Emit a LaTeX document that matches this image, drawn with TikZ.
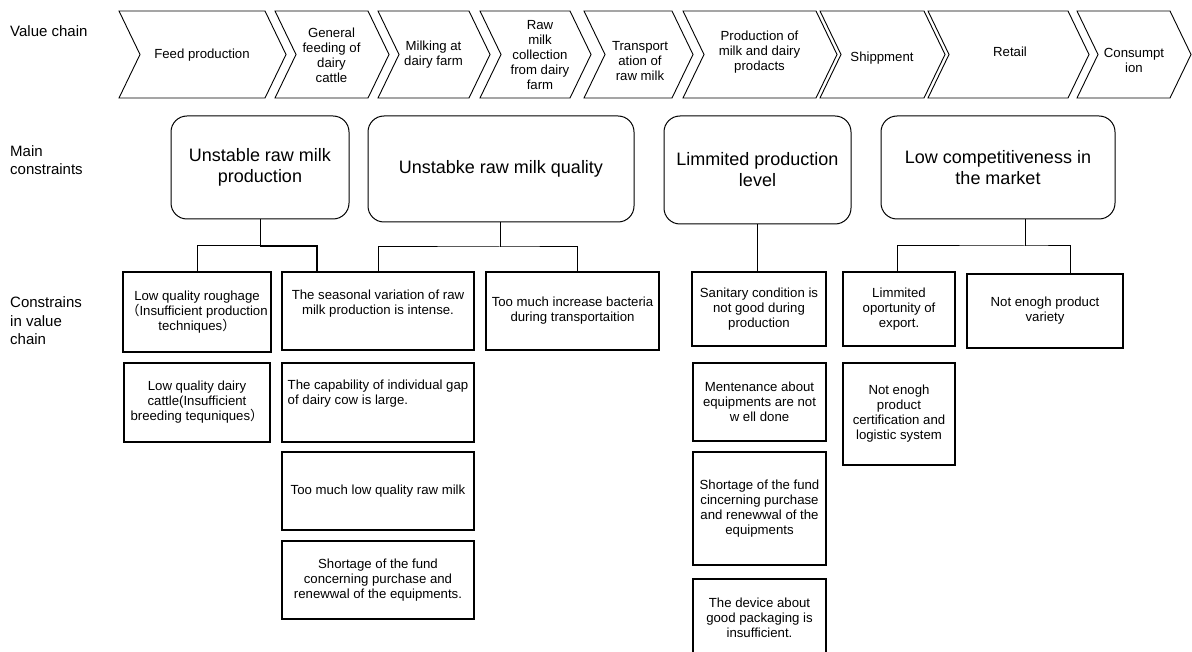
\documentclass[tikz,border=0pt]{standalone}
\usepackage{fontspec}
\setmainfont{Liberation Sans}
\newfontfamily\cjk{Noto Sans CJK SC}
\newcommand{\fwl}{{\cjk （}}
\newcommand{\fwr}{{\cjk ）}}
\begin{document}
\begin{tikzpicture}[x=1pt,y=-1pt,
  stage/.style={draw=black, line width=0.9pt, line join=miter},
  stagetext/.style={align=center, font=\fontsize{13.2}{15}\selectfont, inner sep=0pt},
  mainbox/.style={draw=black, line width=1pt, rounded corners=16pt, align=center,
    font=\fontsize{18}{21}\selectfont, inner sep=2pt},
  cbox/.style={draw=black, line width=1.1pt, align=center,
    font=\fontsize{13.2}{15}\selectfont, inner xsep=1pt, inner ysep=2pt},
  txt/.style={align=center, font=\fontsize{13.2}{15}\selectfont, inner sep=0pt},
  rowlabel/.style={anchor=west, align=left, font=\fontsize{15}{18.5}\selectfont, inner sep=0pt},
  link/.style={draw=black, line width=1pt},
  boldlink/.style={draw=black, line width=1.6pt},
]
\useasboundingbox (0,0) rectangle (1192,652);
\clip (0,0) rectangle (1192,652);

% row captions
\node[rowlabel] (lvc) at (10,31) {Value chain};
\node[rowlabel] (lmc) at (10,160) {Main\\constraints};
\node[rowlabel] (lcv) at (10,321) {Constrains\\in value\\chain};

% value chain stages (chevrons)
\foreach \l/\r in {119/265, 275/368, 378/469, 480/570, 584/672, 683/816, 820/924, 928/1068, 1077/1170}
  \draw[stage] (\l,11) -- (\r,11) -- (\r+21,54.5) -- (\r,98) -- (\l,98) -- (\l+21,54.5) -- cycle;

\node[stagetext] (vc1) at (202,55) {Feed production};
\node[stagetext] (vc2) at (331.5,55) {General\\feeding of\\dairy\\cattle};
\node[stagetext] (vc3) at (433.5,55) {Milking at\\dairy farm};
\node[stagetext] (vc4) at (540,55) {Raw\\milk\\collection\\from dairy\\farm};
\node[stagetext] (vc5) at (640,61) {Transport\\ation of\\raw milk};
\node[stagetext] (vc6) at (759.5,52) {Production of\\milk and dairy\\prodacts};
\node[stagetext] (vc7) at (882,58) {Shippment};
\node[stagetext] (vc8) at (1010,52) {Retail};
\node[stagetext] (vc9) at (1134,60) {Consumpt\\ion};

% main constraints
\node[mainbox, minimum width=178pt, minimum height=103pt] (mc1) at (260,167.5) {Unstable raw milk\\production};
\node[mainbox, minimum width=266pt, minimum height=106pt] (mc2) at (501,169) {Unstabke raw milk quality};
\node[mainbox, minimum width=187pt, minimum height=108pt] (mc3) at (757.5,170) {Limmited production\\level};
\node[mainbox, minimum width=234pt, minimum height=103pt] (mc4) at (998,167.5) {Low competitiveness in\\the market};

% constraints in the value chain
\node[cbox, minimum width=148pt, minimum height=80pt] (a1) at (197,312)
  {Low quality roughage\\\fwl Insufficient production\\techniques\fwr};
\node[cbox, minimum width=146pt, minimum height=79pt] (a2) at (197,402.5)
  {Low quality dairy\\cattle(Insufficient\\breeding tequniques\fwr};

\node[cbox, minimum width=192pt, minimum height=78pt] (b1) at (378,311) {};
\node[txt] (b1t) at ([yshift=7pt]b1.center) {The seasonal variation of raw\\milk production is intense.};
\node[cbox, minimum width=192pt, minimum height=79pt] (b2) at (378,402.5) {};
\node[txt, align=left] (b2t) at ([yshift=9pt]b2.center) {The capability of individual gap\\of dairy cow is large.};
\node[cbox, minimum width=192pt, minimum height=78pt] (b3) at (378,491) {Too much low quality raw milk};
\node[cbox, minimum width=192pt, minimum height=78pt] (b4) at (378,580)
  {Shortage of the fund\\concerning purchase and\\renewwal of the equipments.};

\node[cbox, minimum width=173pt, minimum height=78pt] (c1) at (572.5,311)
  {Too much increase bacteria\\during transportaition};

\node[cbox, minimum width=134pt, minimum height=74pt] (d1) at (759,309)
  {Sanitary condition is\\not good during\\production};
\node[cbox, minimum width=133pt, minimum height=78pt] (d2) at (759.5,402)
  {Mentenance about\\equipments are not\\w ell done};
\node[cbox, minimum width=133pt, minimum height=113pt] (d3) at (759.5,508.5)
  {Shortage of the fund\\cincerning purchase\\and renewwal of the\\equipments};
\node[cbox, minimum width=133pt, minimum height=78pt] (d4) at (759.5,618)
  {The device about\\good packaging is\\insufficient.};

\node[cbox, minimum width=112pt, minimum height=74pt] (e1) at (899,309)
  {Limmited\\oportunity of\\export.};
\node[cbox, minimum width=112pt, minimum height=102pt] (e2) at (899,414)
  {Not enogh\\product\\certification and\\logistic system};

\node[cbox, minimum width=156pt, minimum height=74pt] (f1) at (1045,311)
  {Not enogh product\\variety};

% connectors from main constraints to their causes
\coordinate (bus1) at (260,246);
\draw[link] (mc1.south) -- (bus1) -- (bus1 -| a1.north) -- (a1.north);
\draw[boldlink] (bus1) -| (b1.north -| 317,0);

\coordinate (bus2) at (500,247);
\draw[link] (bus2 |- mc2.south) -- (bus2);
\draw[link] (b1.north -| 378,0) |- (bus2) -| (c1.north -| 577,0);

\draw[boldlink] (mc3.south) -- (mc3.south |- d1.north);

\coordinate (bus4) at (1025,246);
\draw[link] (bus4 |- mc4.south) -- (bus4);
\draw[link] (e1.north -| 897,0) |- (bus4) -| (f1.north -| 1070,0);
\end{tikzpicture}
\end{document}
